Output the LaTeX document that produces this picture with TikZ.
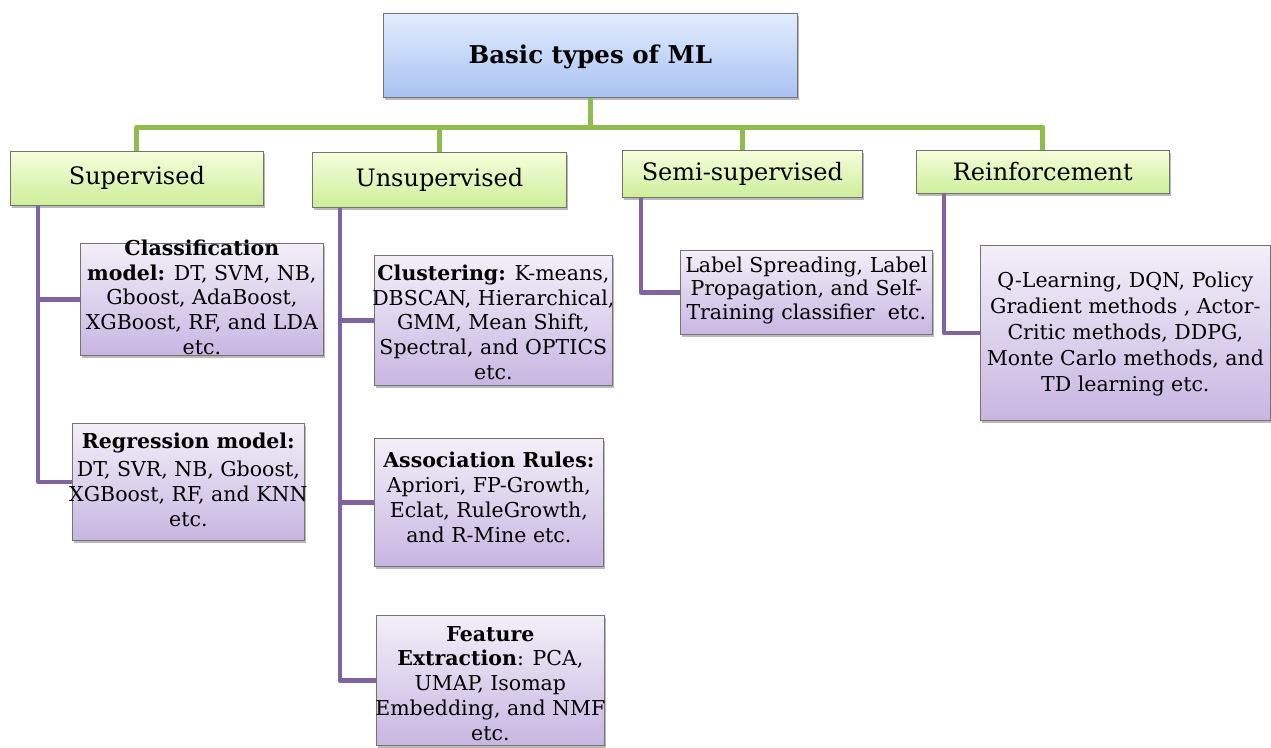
\documentclass[tikz,border=0pt]{standalone}
\usepackage{fontspec}
\setmainfont{DejaVu Serif}
\usetikzlibrary{shadows,calc}
\definecolor{gline}{HTML}{8FBC4F}
\definecolor{pline}{HTML}{8064A2}
\definecolor{bluetop}{HTML}{E2ECFD}
\definecolor{bluebot}{HTML}{A8C2F2}
\definecolor{greentop}{HTML}{F6FEDC}
\definecolor{greenbot}{HTML}{CDEE9A}
\definecolor{purtop}{HTML}{F3EFF8}
\definecolor{purbot}{HTML}{C8B6E2}
\tikzset{
  box/.style={draw=black!55, line width=0.7pt, anchor=north west, inner sep=0pt,
    drop shadow={shadow xshift=2pt, shadow yshift=-3pt, opacity=0.45, fill=black!60}},
  topbox/.style={box, top color=bluetop, bottom color=bluebot},
  catbox/.style={box, top color=greentop, bottom color=greenbot},
  leafbox/.style={box, top color=purtop, bottom color=purbot},
  toptxt/.style={font=\fontsize{24.5}{30}\selectfont\bfseries},
  cattxt/.style={font=\fontsize{24}{28}\selectfont},
  leaftxt/.style={font=\fontsize{20.5}{24.8}\selectfont, align=center, inner sep=0pt},
  gconn/.style={draw=gline, line width=5pt, line join=round},
  pconn/.style={draw=pline, line width=4.5pt, line join=round},
}
\begin{document}
\begin{tikzpicture}[x=1pt,y=-1pt]
\useasboundingbox (0,0) rectangle (1271,747);
% top
\node[topbox, minimum width=414pt, minimum height=84pt] (root) at (383,13) {};
\node[toptxt] (roottxt) at ($(root.center)+(0,2)$) {Basic types of ML};
% categories
\node[catbox, minimum width=253pt, minimum height=54pt] (sup) at (10,151) {};
\node[cattxt] (suptxt) at (sup.center) {Supervised};
\node[catbox, minimum width=254pt, minimum height=55pt] (uns) at (312,152) {};
\node[cattxt] (unstxt) at (uns.center) {Unsupervised};
\node[catbox, minimum width=240pt, minimum height=47pt] (semi) at (622,150) {};
\node[cattxt] (semitxt) at (semi.center) {Semi-supervised};
\node[catbox, minimum width=253pt, minimum height=43pt] (rein) at (916,150) {};
\node[cattxt] (reintxt) at (rein.center) {Reinforcement};
% green connectors
\coordinate (bus) at (0,127);
\draw[gconn] (root.south) -- (root.south |- bus);
\draw[gconn] (sup.north) -- (sup.north |- bus) -- (rein.north |- bus) -- (rein.north);
\draw[gconn] (uns.north) -- (uns.north |- bus);
\draw[gconn] (semi.north) -- (semi.north |- bus);
% leaves
\node[leafbox, minimum width=243pt, minimum height=112pt] (cls) at (80,243) {};
\node[leaftxt] (clstxt) at ($(cls.center)+(0,-2)$) {\textbf{Classification}\\ \textbf{model:} DT, SVM, NB,\\ Gboost, AdaBoost,\\ XGBoost, RF, and LDA\\ etc.};
\node[leafbox, minimum width=232pt, minimum height=117pt] (reg) at (72,423) {};
\node[leaftxt] (regtxt) at ($(reg.center)+(0,-2)$) {\textbf{Regression model:}\\[3pt] DT, SVR, NB, Gboost,\\ XGBoost, RF, and KNN\\ etc.};
\node[leafbox, minimum width=238pt, minimum height=130pt] (clu) at (374,255) {};
\node[leaftxt] (clutxt) at ($(clu.center)+(0,2)$) {\textbf{Clustering:} K-means,\\ DBSCAN, Hierarchical,\\ GMM, Mean Shift,\\ Spectral, and OPTICS\\ etc.};
\node[leafbox, minimum width=229pt, minimum height=128pt] (asr) at (374,438) {};
\node[leaftxt] (asrtxt) at ($(asr.center)+(0,-5)$) {\textbf{Association Rules:}\\ Apriori, FP-Growth,\\ Eclat, RuleGrowth,\\ and R-Mine etc.};
\node[leafbox, minimum width=228pt, minimum height=130pt] (fex) at (376,615) {};
\node[leaftxt] (fextxt) at ($(fex.center)+(0,3)$) {\textbf{Feature}\\ \textbf{Extraction}: PCA,\\ UMAP, Isomap\\ Embedding, and NMF\\ etc.};
\node[leafbox, minimum width=252pt, minimum height=84pt] (lab) at (680,250) {};
\node[leaftxt, font=\fontsize{20.5}{23.5}\selectfont] (labtxt) at ($(lab.center)+(0,-2)$) {Label Spreading, Label\\ Propagation, and Self-\\ Training classifier\ \ etc.};
\node[leafbox, minimum width=290pt, minimum height=175pt] (qle) at (980,245) {};
\node[leaftxt, font=\fontsize{20.5}{26}\selectfont] (qletxt) at ($(qle.center)+(0,1)$) {Q-Learning, DQN, Policy\\ Gradient methods , Actor-\\ Critic methods, DDPG,\\ Monte Carlo methods, and\\ TD learning etc.};
% purple connectors
\coordinate (supx) at ($(sup.south west)+(28,0)$);
\draw[pconn] (supx) |- (reg.west);
\draw[pconn] (supx |- cls.west) -- (cls.west);
\coordinate (unsx) at ($(uns.south west)+(28,0)$);
\draw[pconn] (unsx) |- (fex.west);
\draw[pconn] (unsx |- clu.west) -- (clu.west);
\draw[pconn] (unsx |- asr.west) -- (asr.west);
\coordinate (semix) at ($(semi.south west)+(19,0)$);
\draw[pconn] (semix) |- (lab.west);
\coordinate (reinx) at ($(rein.south west)+(28,0)$);
\draw[pconn] (reinx) |- (qle.west);
\end{tikzpicture}
\end{document}
